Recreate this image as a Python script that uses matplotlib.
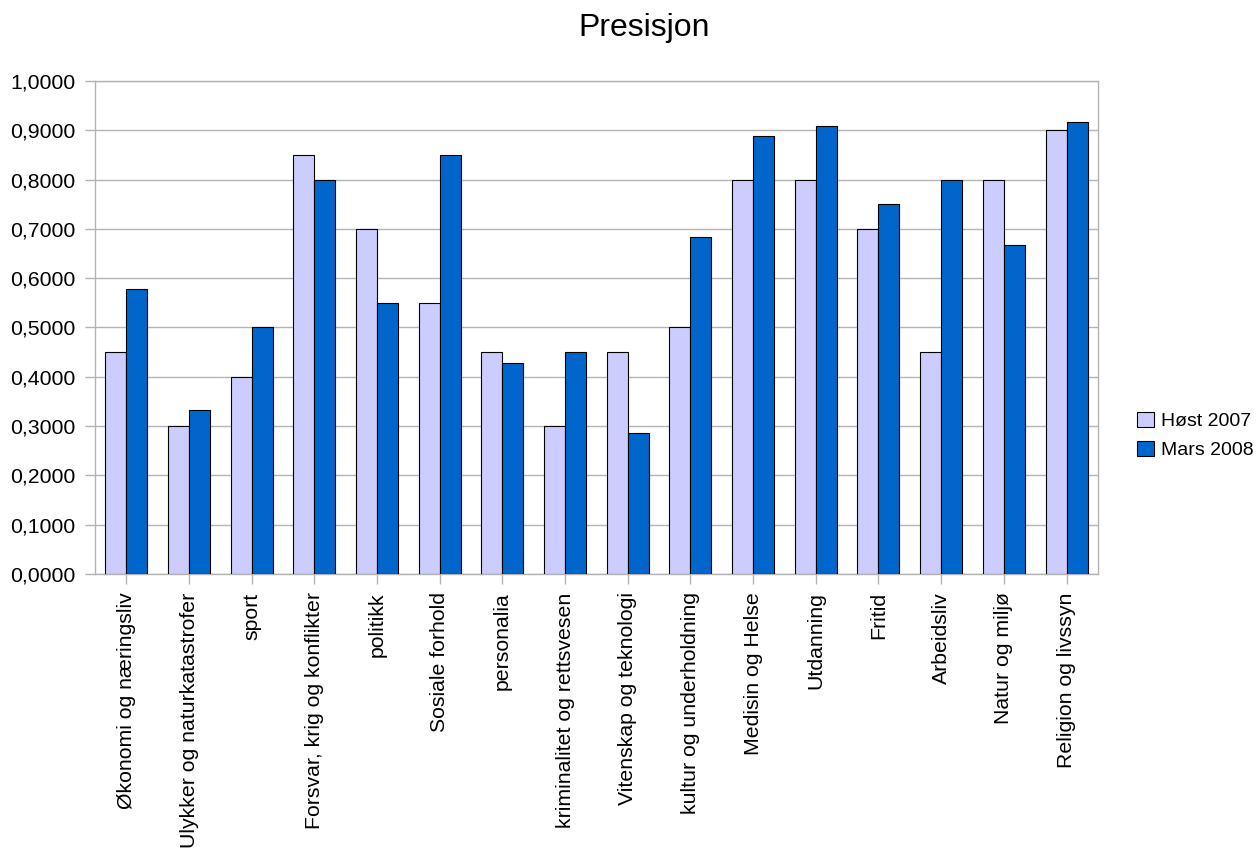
import matplotlib
matplotlib.use("Agg")
import matplotlib.pyplot as plt
from matplotlib.ticker import FuncFormatter, MultipleLocator
import numpy as np

plt.rcParams['font.family'] = ['Liberation Sans', 'DejaVu Sans']

categories = [
    "Økonomi og næringsliv", "Ulykker og naturkatastrofer", "sport",
    "Forsvar, krig og konflikter", "politikk", "Sosiale forhold",
    "personalia", "kriminalitet og rettsvesen", "Vitenskap og teknologi",
    "kultur og underholdning", "Medisin og Helse", "Utdanning", "Fritid",
    "Arbeidsliv", "Natur og miljø", "Religion og livssyn",
]
host_2007 = [0.45, 0.30, 0.40, 0.85, 0.70, 0.55, 0.45, 0.30, 0.45,
             0.50, 0.80, 0.80, 0.70, 0.45, 0.80, 0.90]
mars_2008 = [0.5783, 0.3333, 0.50, 0.80, 0.55, 0.85, 0.4286, 0.45, 0.2857,
             0.6842, 0.8889, 0.9091, 0.75, 0.80, 0.6667, 0.9167]
series_names = ["Høst 2007", "Mars 2008"]

fig = plt.figure(figsize=(12.59, 8.52), dpi=100)
ax = fig.add_axes([0.0755, 0.3263, 0.7965, 0.5787])

x = np.arange(len(categories))
w = 0.335
grid_c = "#b3b3b3"
ax.bar(x - w / 2, host_2007, width=w, color="#ccccff", edgecolor="black",
       linewidth=0.8, label=series_names[0], zorder=3)
ax.bar(x + w / 2, mars_2008, width=w, color="#0066cc", edgecolor="black",
       linewidth=0.8, label=series_names[1], zorder=3)

ax.set_xlim(-0.5, len(categories) - 0.5)
ax.set_ylim(0, 1.0)
ax.yaxis.set_major_locator(MultipleLocator(0.1))
ax.yaxis.set_major_formatter(FuncFormatter(lambda v, p: f"{v:.4f}".replace(".", ",")))
ax.grid(axis="y", color=grid_c, linewidth=1.0, zorder=0)
ax.set_axisbelow(True)
for s in ax.spines.values():
    s.set_color(grid_c)
    s.set_linewidth(1.0)

ax.set_xticks(x)
ax.set_xticklabels(categories, rotation=90, fontsize=15.3)
ax.tick_params(axis="both", colors=grid_c, length=7.2, width=1.0, labelcolor="black",
               labelsize=15.3)
ax.tick_params(axis="x", pad=6)
ax.tick_params(axis="y", pad=7)

fig.text(0.5115, 0.967, "Presisjon", fontsize=23, ha="center", va="center")

leg = fig.legend(loc="center left", bbox_to_anchor=(0.8955, 0.489), frameon=False,
                 fontsize=14, handlelength=0.85, handleheight=0.85,
                 handletextpad=0.4, labelspacing=0.55, borderpad=0)

fig.savefig("out.png", dpi=100)
